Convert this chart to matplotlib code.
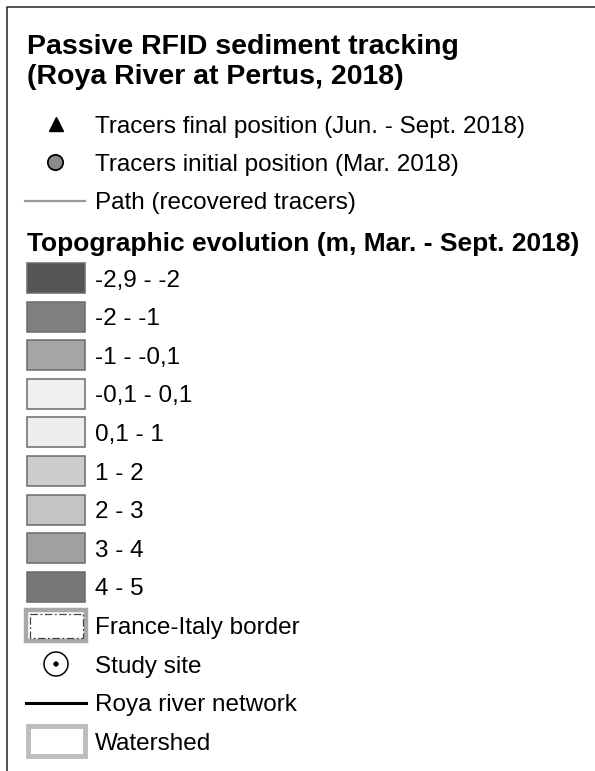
import matplotlib.pyplot as plt
from matplotlib.patches import Rectangle, Circle

plt.rcParams['font.family'] = ['Liberation Sans', 'DejaVu Sans']

# Legend texts
title = ['Passive RFID sediment tracking', '(Roya River at Pertus, 2018)']
tracer_labels = ['Tracers final position (Jun. - Sept. 2018)',
                 'Tracers initial position (Mar. 2018)',
                 'Path (recovered tracers)']
topo_title = 'Topographic evolution (m, Mar. - Sept. 2018)'
topo_classes = ['-2,9 - -2', '-2 - -1', '-1 - -0,1', '-0,1 - 0,1', '0,1 - 1',
                '1 - 2', '2 - 3', '3 - 4', '4 - 5']
topo_colors = ['#555555', '#7f7f7f', '#a5a5a5', '#efefef', '#eeeeee',
               '#cdcdcd', '#c4c4c4', '#a0a0a0', '#777777']
other_labels = ['France-Italy border', 'Study site', 'Roya river network', 'Watershed']

W, H = 595, 771
fig = plt.figure(figsize=(W / 100, H / 100), dpi=100)
ax = fig.add_axes([0, 0, 1, 1])
ax.set_xlim(0, W)
ax.set_ylim(H, 0)
ax.axis('off')

# frame (top + left)
ax.plot([7, 7, W], [H, 7, 7], color='#333333', lw=1.2, solid_capstyle='butt')

dy = 2.5  # text centre offset

# title
ax.text(27, 45 + dy, title[0], fontsize=20.5, fontweight='bold', va='center')
ax.text(27, 75 + dy, title[1], fontsize=20.5, fontweight='bold', va='center')

tx = 95
fs = 17.5
ys = [124, 162, 201]
ax.plot([56], [ys[0]], marker='^', ms=10.5, color='black', ls='none')
ax.plot([55], [ys[1]], marker='o', ms=11, mfc='#8a8a8a', mec='black', mew=1.3, ls='none')
ax.plot([25, 85], [ys[2], ys[2]], color='#9a9a9a', lw=1.6)
for y, lab in zip(ys, tracer_labels):
    ax.text(tx, y + dy, lab, fontsize=fs, va='center')

ax.text(27, 242 + dy, topo_title, fontsize=19, fontweight='bold', va='center')

# topographic classes
y0, step = 278, 38.6
for i, (lab, col) in enumerate(zip(topo_classes, topo_colors)):
    yc = y0 + i * step
    ax.add_patch(Rectangle((27, yc - 15), 58, 30, facecolor=col,
                           edgecolor='#6a6a6a', lw=1.1))
    ax.text(tx, yc + dy, lab, fontsize=fs, va='center')

# other items
yo = [y0 + (len(topo_classes) + k) * step for k in range(4)]
# France-Italy border
ax.add_patch(Rectangle((26, yo[0] - 15), 60, 31, facecolor='white',
                       edgecolor='#a8a8a8', lw=3.2))
ax.add_patch(Rectangle((29.5, yo[0] - 11.5), 53, 24, facecolor='none',
                       edgecolor='#444444', lw=0.9, ls=(0, (6, 2, 1.5, 2))))
# Study site
ax.add_patch(Circle((56, yo[1]), 12, facecolor='white', edgecolor='black', lw=1.1))
ax.add_patch(Circle((56, yo[1]), 2.6, facecolor='black', edgecolor='none'))
# River network
ax.plot([26, 86], [yo[2], yo[2]], color='black', lw=2.2)
# Watershed
ax.add_patch(Rectangle((28, yo[3] - 15), 57, 30, facecolor='white',
                       edgecolor='#bdbdbd', lw=3.5))
for y, lab in zip(yo, other_labels):
    ax.text(tx, y + dy, lab, fontsize=fs, va='center')

fig.savefig('out.png', dpi=100)
